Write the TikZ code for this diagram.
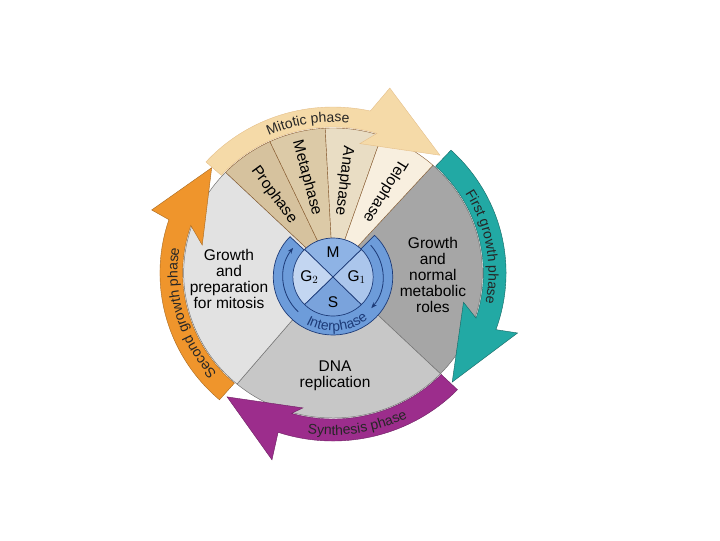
\documentclass[tikz,border=0pt]{standalone}
\usepackage{fontspec}
\setmainfont{Liberation Sans}
\usepackage{tikz}
\usetikzlibrary{arrows.meta,decorations.text}

\definecolor{prophcol}{HTML}{D6C29E}
\definecolor{metacol}{HTML}{DCCAA7}
\definecolor{anacol}{HTML}{E9DDC4}
\definecolor{telocol}{HTML}{F8EFDF}
\definecolor{mitcol}{HTML}{F5DAA8}
\definecolor{gonecol}{HTML}{22A9A4}
\definecolor{scol}{HTML}{9C2D8C}
\definecolor{gtwocol}{HTML}{EF952C}
\definecolor{grayright}{HTML}{A6A6A6}
\definecolor{graybottom}{HTML}{C7C7C7}
\definecolor{grayleft}{HTML}{E2E2E2}
\definecolor{ringcol}{HTML}{6D9CDA}
\definecolor{ringline}{HTML}{1D3B78}
\definecolor{quadM}{HTML}{8EB3E5}
\definecolor{quadGone}{HTML}{ABC6EC}
\definecolor{quadGtwo}{HTML}{C3D6F1}
\definecolor{quadS}{HTML}{7AA3DC}

\newcommand{\labfont}{\fontsize{15.5}{16}\selectfont}
\newcommand{\bandfont}{\fontsize{14}{14}\selectfont}

\begin{document}
\begin{tikzpicture}[x=1pt, y=1pt, xscale=1.03,
    graypiece/.style={draw=black!55, line width=0.5pt},
    mitpiece/.style={draw=brown!70!black, line width=0.4pt},
    midtext/.style={font=\labfont, align=center, inner sep=0pt},
    wedgetext/.style={font=\labfont, inner sep=0pt},
    quadpiece/.style={draw=ringline, line width=0.7pt}]
  \useasboundingbox (-323.3,-267) rectangle (375.7,273);
  % interphase sectors
  \filldraw[fill=grayright, graypiece] (0,0) -- (48:145) arc[start angle=48, end angle=-44, radius=145] -- cycle;
  \filldraw[fill=graybottom, graypiece] (0,0) -- (-44:145) arc[start angle=-44, end angle=-130, radius=145] -- cycle;
  \filldraw[fill=grayleft, graypiece] (0,0) -- (230:145) arc[start angle=230, end angle=136, radius=145] -- cycle;
  % mitotic wedges
  \filldraw[fill=prophcol, mitpiece] (0,0) -- (136:145) arc[start angle=136, end angle=115, radius=145] -- cycle;
  \filldraw[fill=metacol, mitpiece] (0,0) -- (115:145) arc[start angle=115, end angle=93, radius=145] -- cycle;
  \filldraw[fill=anacol, mitpiece] (0,0) -- (93:145) arc[start angle=93, end angle=71, radius=145] -- cycle;
  \filldraw[fill=telocol, mitpiece] (0,0) -- (71:145) arc[start angle=71, end angle=48, radius=145] -- cycle;

  % phase arrows
  \filldraw[fill=gtwocol, draw=gtwocol!70!black, line width=0.4pt] (229:146) arc[start angle=229, end angle=161, radius=146]
    -- (167.6:130) -- (138.2:158) -- (160.3:187) -- (161.5:168) arc[start angle=161.5, end angle=229, radius=168] -- cycle;
  \filldraw[fill=scol, draw=scol!70!black, line width=0.4pt] (316:146) arc[start angle=316, end angle=254, radius=146]
    -- (257.8:138) -- (230.3:161) -- (252.4:196) -- (251.5:168) arc[start angle=251.5, end angle=316, radius=168] -- cycle;
  \filldraw[fill=gonecol, draw=gonecol!60!black, line width=0.4pt] (47:146) arc[start angle=47, end angle=-18, radius=146]
    -- (-13:130) -- (-43.3:159) -- (-18.5:189) -- (-19.7:168) arc[start angle=-19.7, end angle=47, radius=168] -- cycle;
  \filldraw[fill=mitcol, draw=mitcol!70!brown, line width=0.4pt] (138:146) arc[start angle=138, end angle=73, radius=146]
    -- (78.6:132) -- (48.6:157) -- (73.4:193) -- (77.4:166) arc[start angle=77.4, end angle=138, radius=166] -- cycle;

  % texts along the arrows
  \path[decorate, decoration={text along path, text align=center,
    text={|\bandfont\color{black!85}|Mitotic phase}}] (149.4:151) arc[start angle=149.4, end angle=49.4, radius=151];
  \path[decorate, decoration={text along path, text align=center,
    text={|\bandfont\color{black!85}|First growth phase}}] (60:151) arc[start angle=60, end angle=-40, radius=151];
  \path[decorate, decoration={text along path, text align=center,
    text={|\bandfont\color{black!85}|Synthesis phase}}] (229:162) arc[start angle=229, end angle=329, radius=162];
  \path[decorate, decoration={text along path, text align=center,
    text={|\bandfont\color{black!85}|Second growth phase}}] (246:151) arc[start angle=246, end angle=146, radius=151];

  % sector labels
  \node[midtext] (gtwotext) at (-101,-6) {Growth\\and\\preparation\\for mitosis};
  \node[midtext] (gonetext) at (97,-2) {Growth\\and\\normal\\metabolic\\roles};
  \node[midtext] (stext) at (2,-103) {DNA\\replication};
  \node[wedgetext, rotate=-53.7] (prophase) at (126.3:96.8) {Prophase};
  \node[wedgetext, rotate=-75] (metaphase) at (105:98.4) {Metaphase};
  \node[wedgetext, rotate=-96.6] (anaphase) at (83.4:92.6) {Anaphase};
  \node[wedgetext, rotate=-121.6] (telophase) at (58.4:96.3) {Telophase};

  % cell cycle circle
  \begin{scope}[shift={(0,-4)}]
    \filldraw[fill=ringcol, quadpiece] (0,0) -- (136:58) arc[start angle=136, end angle=406, radius=58] -- cycle;
    \filldraw[fill=quadM, quadpiece] (0,0) -- (45:39) arc[start angle=45, end angle=135, radius=39] -- cycle;
    \filldraw[fill=quadGtwo, quadpiece] (0,0) -- (135:39) arc[start angle=135, end angle=225, radius=39] -- cycle;
    \filldraw[fill=quadS, quadpiece] (0,0) -- (225:39) arc[start angle=225, end angle=315, radius=39] -- cycle;
    \filldraw[fill=quadGone, quadpiece] (0,0) -- (315:39) arc[start angle=315, end angle=405, radius=39] -- cycle;
    \draw[ringline, line width=0.8pt, -{Stealth[length=6pt, width=4.5pt]}] (226:48.5) arc[start angle=226, end angle=143, radius=48.5];
    \draw[ringline, line width=0.8pt, -{Stealth[length=6pt, width=4.5pt]}] (41:48.5) arc[start angle=41, end angle=-40, radius=48.5];
    \node[font=\labfont] (mlab) at (0,25) {M};
    \node[font=\labfont] (slab) at (0,-25) {S};
    \node[font=\labfont] (gtwolab) at (-23,0) {G$_2$};
    \node[font=\labfont] (gonelab) at (23,0) {G$_1$};
    \path[decorate, decoration={text along path, text align=center,
      text={|\bandfont\color{ringline}|Interphase}}] (205:54) arc[start angle=205, end angle=345, radius=54];
  \end{scope}
\end{tikzpicture}
\end{document}
